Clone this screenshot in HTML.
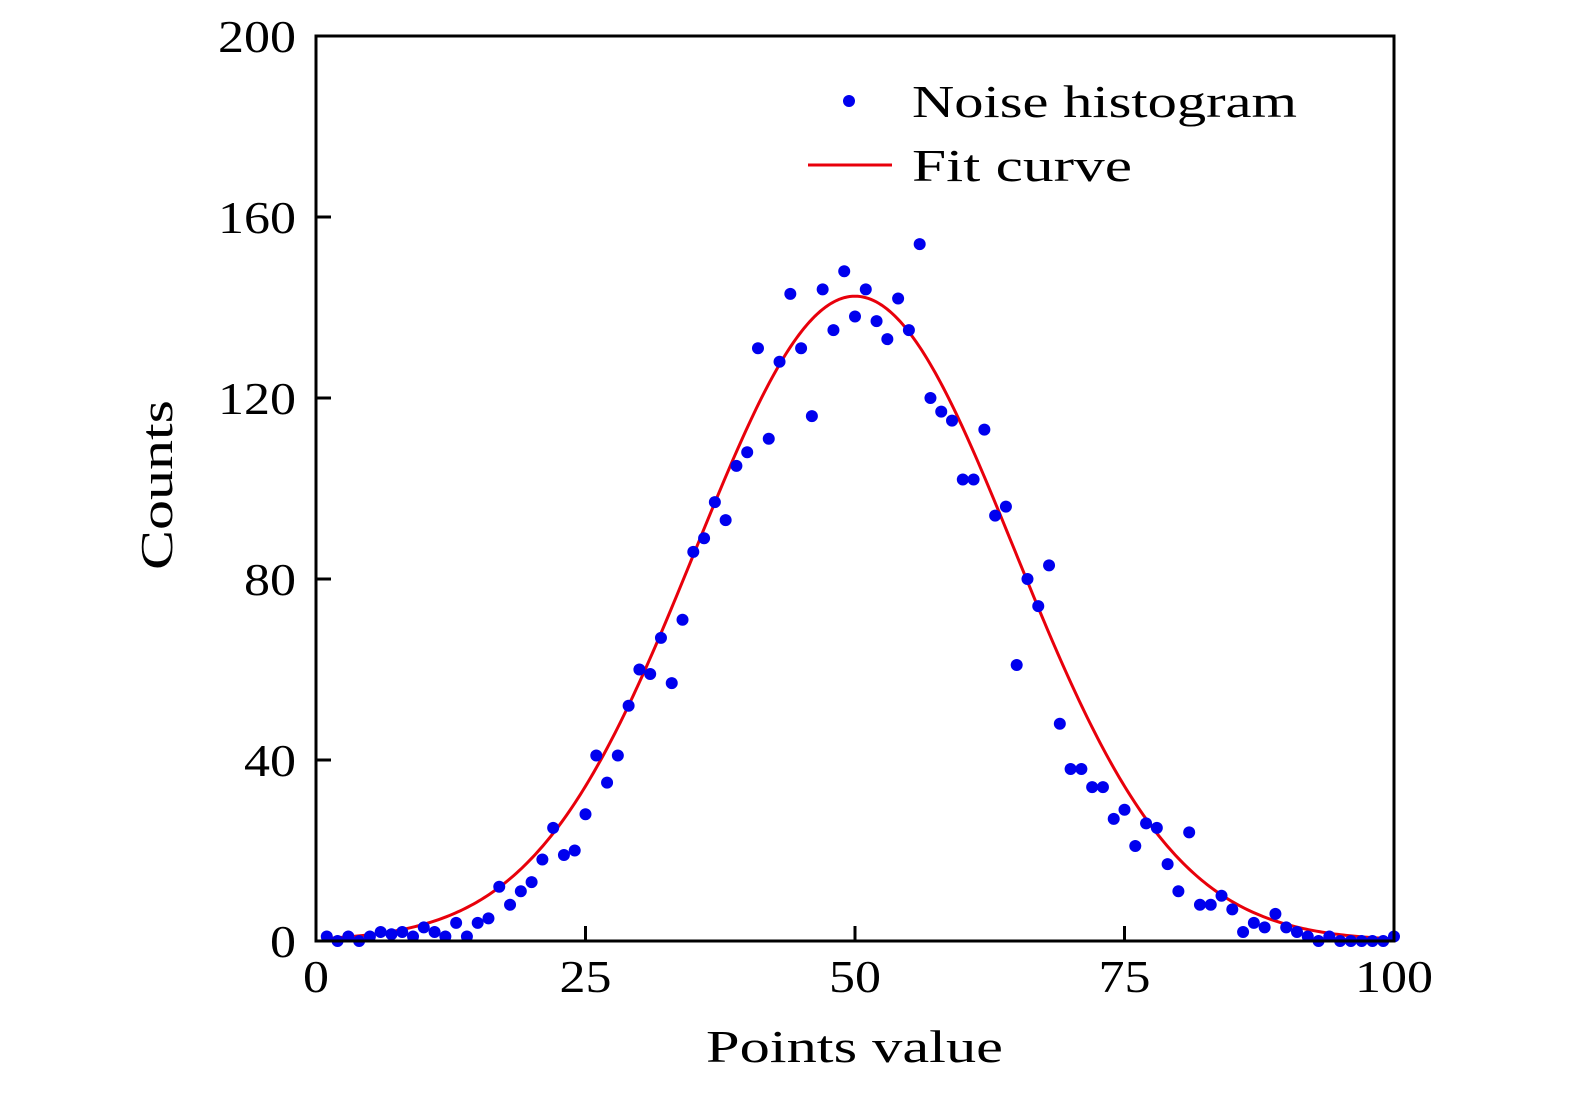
<!DOCTYPE html>
<html><head><meta charset="utf-8"><style>
body{margin:0;background:#fff}
svg text{font-family:"Liberation Serif",serif;fill:#000}
</style></head><body>
<svg width="1575" height="1093" viewBox="0 0 1575 1093" xmlns="http://www.w3.org/2000/svg">
<g id="plot"></g>
</svg>
<script>
const xValues=[1,2,3,4,5,6,7,8,9,10,11,12,13,14,15,16,17,18,19,20,21,22,23,24,25,26,27,28,29,30,31,32,33,34,35,36,37,38,39,40,41,42,43,44,45,46,47,48,49,50,51,52,53,54,55,56,57,58,59,60,61,62,63,64,65,66,67,68,69,70,71,72,73,74,75,76,77,78,79,80,81,82,83,84,85,86,87,88,89,90,91,92,93,94,95,96,97,98,99,100];
const counts=[1,0,1,0,1,2,1.5,2,1,3,2,1,4,1,4,5,12,8,11,13,18,25,19,20,28,41,35,41,52,60,59,67,57,71,86,89,97,93,105,108,131,111,128,143,131,116,144,135,148,138,144,137,133,142,135,154,120,117,115,102,102,113,94,96,61,80,74,83,48,38,38,34,34,27,29,21,26,25,17,11,24,8,8,10,7,2,4,3,6,3,2,1,0,1,0,0,0,0,0,1];
const fitParams=[142.5,50,14.8];
const xTicks=[0,25,50,75,100];
const yTicks=[0,40,80,120,160,200];
const NS='http://www.w3.org/2000/svg';
const L=316,R=1394,T=36,B=941;
const sx=v=>L+(v-0)/(100-0)*(R-L);
const sy=v=>B-(v-0)/(200-0)*(B-T);
const g=document.getElementById('plot');
function mk(tag,attrs){const e=document.createElementNS(NS,tag);for(const k in attrs)e.setAttribute(k,attrs[k]);return e;}
let d='';
for(let i=0;i<=400;i++){const x=1+i*(99/400);const y=fitParams[0]*Math.exp(-Math.pow(x-fitParams[1],2)/(2*fitParams[2]*fitParams[2]));d+=(i?'L':'M')+sx(x).toFixed(2)+' '+sy(y).toFixed(2);}
const curve=mk('path',{d:d,fill:'none',stroke:'#e8000b','stroke-width':3});


g.appendChild(curve);
xValues.forEach((x,i)=>{
 const c=mk('circle',{cx:sx(x),cy:sy(counts[i]),r:6,fill:'#0000ee'});
 
 
 g.appendChild(c);
});
const fr=mk('rect',{x:L,y:T,width:R-L,height:B-T,fill:'none',stroke:'#000','stroke-width':3});


g.appendChild(fr);
xTicks.forEach(v=>{
 const t=mk('line',{x1:sx(v),x2:sx(v),y1:B,y2:B-15,stroke:'#000','stroke-width':3});
 
 
 g.appendChild(t);
 const s=String(v);
 const lb=mk('text',{x:sx(v),y:B+51,'text-anchor':'middle','font-size':46,textLength:s.length*26,lengthAdjust:'spacingAndGlyphs'});
 lb.textContent=s;
 
 
 g.appendChild(lb);
});
yTicks.forEach(v=>{
 const t=mk('line',{x1:L,x2:L+15,y1:sy(v),y2:sy(v),stroke:'#000','stroke-width':3});
 
 
 g.appendChild(t);
 const s=String(v);
 const lb=mk('text',{x:L-20,y:sy(v)+16,'text-anchor':'end','font-size':46,textLength:s.length*26,lengthAdjust:'spacingAndGlyphs'});
 lb.textContent=s;
 
 
 g.appendChild(lb);
});
</script>
<svg style="position:absolute;left:0;top:0" width="1575" height="1093">
<text x="706" y="1062" font-size="46" textLength="297" lengthAdjust="spacingAndGlyphs">Points value</text>
<text transform="translate(172,570) rotate(-90)" font-size="46" textLength="170" lengthAdjust="spacingAndGlyphs">Counts</text>
<g>
<circle cx="849" cy="101" r="6" fill="#0000ee"/>
<text x="912" y="117" font-size="46" textLength="385" lengthAdjust="spacingAndGlyphs">Noise histogram</text>
<line x1="808" x2="892" y1="165" y2="165" stroke="#e8000b" stroke-width="3"/>
<text x="912" y="181" font-size="46" textLength="220" lengthAdjust="spacingAndGlyphs">Fit curve</text>
</g>
</svg>
</body></html>
